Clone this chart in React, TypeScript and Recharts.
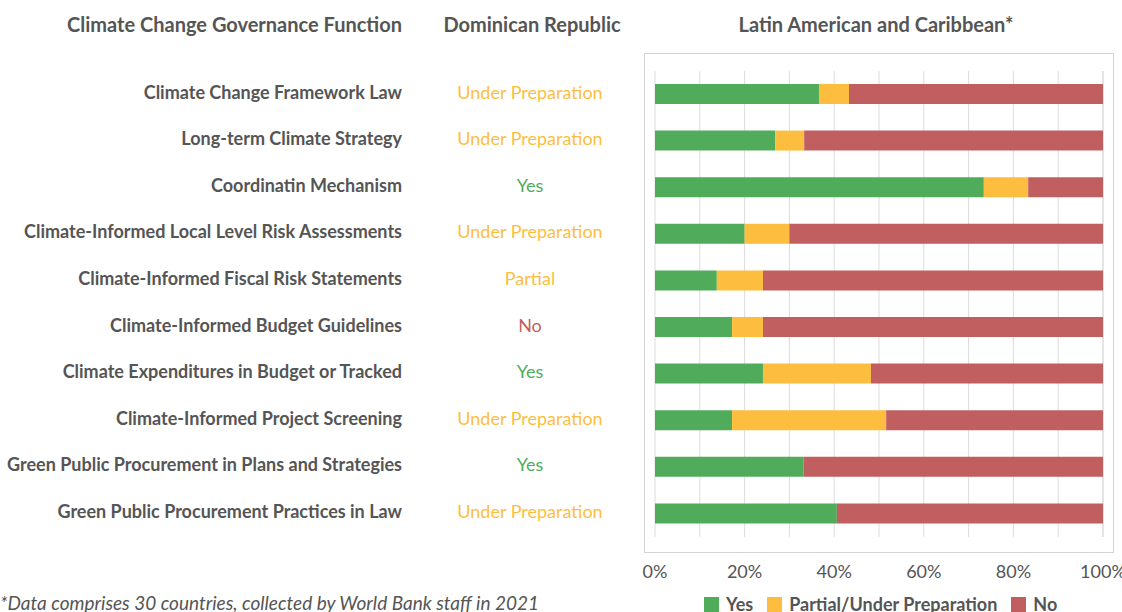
import { BarChart, Bar, XAxis, YAxis, CartesianGrid } from "recharts";

const CATEGORIES = [
  "Climate Change Framework Law",
  "Long-term Climate Strategy",
  "Coordinatin Mechanism",
  "Climate-Informed Local Level Risk Assessments",
  "Climate-Informed Fiscal Risk Statements",
  "Climate-Informed Budget Guidelines",
  "Climate Expenditures in Budget or Tracked",
  "Climate-Informed Project Screening",
  "Green Public Procurement in Plans and Strategies",
  "Green Public Procurement Practices in Law",
];

const DR_STATUS = [
  "Under Preparation",
  "Under Preparation",
  "Yes",
  "Under Preparation",
  "Partial",
  "No",
  "Yes",
  "Under Preparation",
  "Yes",
  "Under Preparation",
];

// share of LAC countries (%)
const YES = [36.6, 26.8, 73.4, 20.0, 13.8, 17.2, 24.1, 17.2, 33.2, 40.6];
const PARTIAL = [6.7, 6.5, 9.9, 10.0, 10.3, 6.9, 24.1, 34.4, 0, 0];
const NO = [56.7, 66.7, 16.7, 70.0, 75.9, 75.9, 51.8, 48.4, 66.8, 59.4];

const X_TICKS = [0, 10, 20, 30, 40, 50, 60, 70, 80, 90, 100];

const GREEN = "#50AC5A";
const YELLOW = "#FDBE40";
const RED = "#C15F60";
const TEXT = "#555555";
const FONT = "Lato, sans-serif";

const STATUS_COLOR: Record<string, string> = {
  Yes: GREEN,
  No: RED,
  Partial: YELLOW,
  "Under Preparation": YELLOW,
};

const SERIES = [
  { key: "yes", name: "Yes", color: GREEN },
  { key: "partial", name: "Partial/Under Preparation", color: YELLOW },
  { key: "no", name: "No", color: RED },
];

const data = CATEGORIES.map((label, i) => ({
  label,
  status: DR_STATUS[i],
  yes: YES[i],
  partial: PARTIAL[i],
  no: NO[i],
}));

function RowTick({ y, payload }: any) {
  const status = DR_STATUS[payload.index];
  return (
    <g fontFamily={FONT}>
      <text x={402} y={y - 2} dy="0.35em" textAnchor="end" fill={TEXT} fontWeight="bold" fontSize={18}>
        {payload.value}
      </text>
      <text x={530} y={y - 2} dy="0.35em" textAnchor="middle" fill={STATUS_COLOR[status]} fontSize={18}>
        {status}
      </text>
    </g>
  );
}

function PercentTick({ x, y, payload }: any) {
  if (payload.value % 20 !== 0) return <g />;
  return (
    <text x={x} y={y} dy="0.71em" textAnchor="middle" fill={TEXT} fontFamily={FONT} fontSize={18}>
      {payload.value}%
    </text>
  );
}

const headerStyle: React.CSSProperties = {
  position: "absolute",
  top: 12,
  fontFamily: FONT,
  fontSize: 20,
  fontWeight: "bold",
  color: TEXT,
  whiteSpace: "nowrap",
  lineHeight: "24px",
};

export default function App() {
  return (
    <div style={{ position: "absolute", left: 0, top: 0, width: 1122, height: 612, overflow: "hidden", background: "#fff" }}>
      <div style={{ ...headerStyle, right: 1122 - 402, textAlign: "right" }}>Climate Change Governance Function</div>
      <div style={{ ...headerStyle, left: 432, width: 200, textAlign: "center" }}>Dominican Republic</div>
      <div style={{ ...headerStyle, left: 726, width: 300, textAlign: "center" }}>Latin American and Caribbean*</div>
      <div
        style={{
          position: "absolute",
          left: 644,
          top: 53,
          width: 470,
          height: 500,
          border: "1px solid #D4D4D4",
          boxSizing: "border-box",
        }}
      />
      <div
        style={{
          position: "absolute",
          left: 0,
          top: 592,
          fontFamily: FONT,
          fontSize: 19,
          fontStyle: "italic",
          color: TEXT,
          whiteSpace: "nowrap",
          lineHeight: "22px",
        }}
      >
        *Data comprises 30 countries, collected by World Bank staff in 2021
      </div>
      <div
        style={{
          position: "absolute",
          left: 704,
          top: 593,
          display: "flex",
          alignItems: "center",
          fontFamily: FONT,
          fontSize: 18,
          fontWeight: "bold",
          color: TEXT,
          whiteSpace: "nowrap",
          lineHeight: "22px",
        }}
      >
        {SERIES.map((s) => (
          <div key={s.key} style={{ display: "flex", alignItems: "center", marginRight: 14 }}>
            <span style={{ width: 15, height: 15, background: s.color, display: "inline-block", marginRight: 7 }} />
            {s.name}
          </div>
        ))}
      </div>
      <div style={{ position: "absolute", left: 0, top: 0 }}>
        <BarChart
          width={1122}
          height={612}
          data={data}
          layout="vertical"
          margin={{ top: 71, right: 19, bottom: 45, left: 0 }}
          barSize={20}
        >
          <CartesianGrid horizontal={false} stroke="#DCDCDC" />
          <XAxis
            type="number"
            domain={[0, 100]}
            ticks={X_TICKS}
            interval={0}
            axisLine={false}
            tickLine={false}
            tickSize={0}
            tickMargin={28}
            height={30}
            tick={<PercentTick />}
          />
          <YAxis
            type="category"
            dataKey="label"
            width={655}
            axisLine={false}
            tickLine={false}
            interval={0}
            tick={<RowTick />}
          />
          {SERIES.map((s) => (
            <Bar key={s.key} dataKey={s.key} name={s.name} stackId="a" fill={s.color} isAnimationActive={false} />
          ))}
        </BarChart>
      </div>
    </div>
  );
}
